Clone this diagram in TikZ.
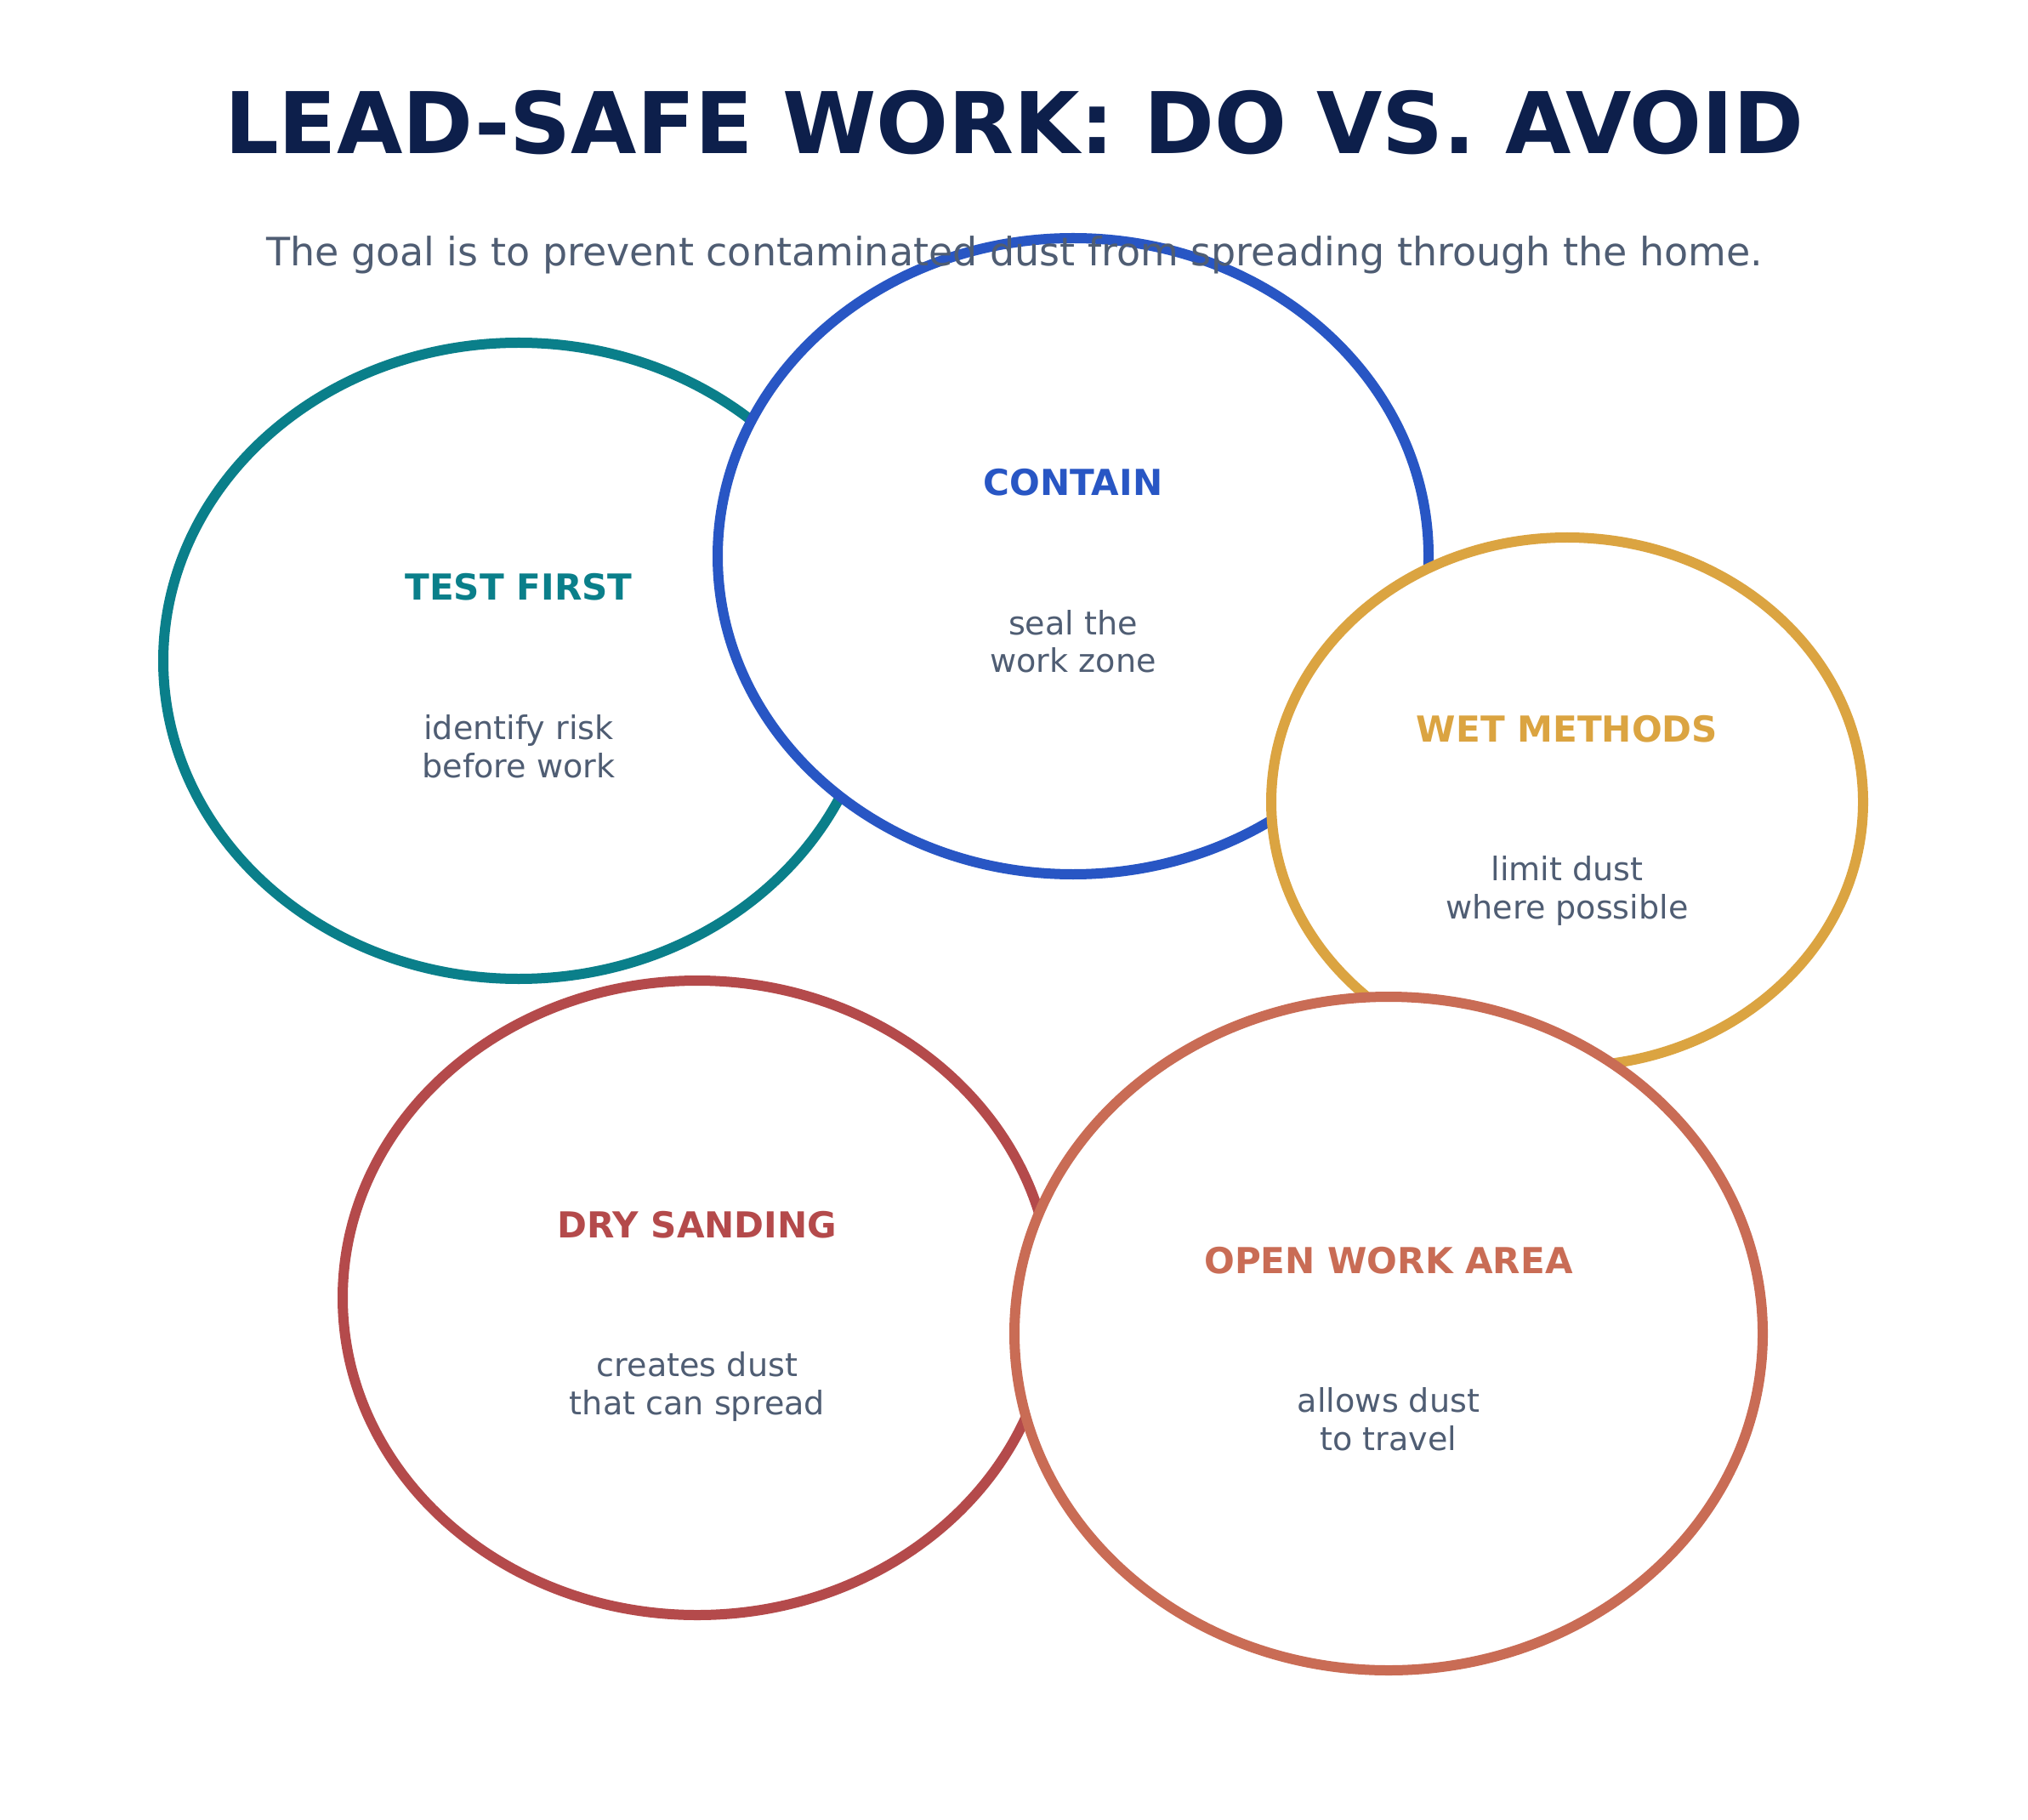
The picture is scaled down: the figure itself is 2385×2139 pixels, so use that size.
\documentclass[tikz,border=0pt]{standalone}
\usepackage{fontspec}
\setmainfont{DejaVu Sans}
\usetikzlibrary{shapes.geometric,positioning}

\definecolor{navytext}{HTML}{0D1F4B}
\definecolor{slatetext}{HTML}{4F5D73}
\definecolor{tealline}{HTML}{0A7F8A}
\definecolor{blueline}{HTML}{2856C4}
\definecolor{goldline}{HTML}{DBA441}
\definecolor{redline}{HTML}{B44A4B}
\definecolor{coralline}{HTML}{C96C55}

\begin{document}
\begin{tikzpicture} [x=0.24pt,y=-0.24pt,line width=2.88pt,
  spot/.style 2 args={ellipse,draw,fill=white,inner sep=0pt,
    minimum width=#1*0.24pt,minimum height=#2*0.24pt},
  head/.style={anchor=base,inner sep=0pt,font=\bfseries\fontsize{10.1}{12}\selectfont},
  note/.style={anchor=base,align=center,inner sep=0pt,text=slatetext,
    font=\fontsize{9.15}{10.7}\selectfont}]

  \useasboundingbox (0,0) rectangle (2385,2139);

  \node[anchor=base,text=navytext,font=\bfseries\fontsize{24}{29}\selectfont] (title)
    at (1193,181) {LEAD-SAFE WORK: DO VS. AVOID};

  % do
  \node[spot={836}{748},draw=tealline] (test) at (610,777) {};
  \node[spot={836}{748},draw=blueline] (contain) at (1262,654) {};
  \node[spot={696}{622},draw=goldline] (wet) at (1843,943) {};
  % avoid
  \node[spot={834}{746},draw=redline] (dry) at (820,1526) {};
  \node[spot={880}{792},draw=coralline] (open) at (1633,1568) {};

  \node[head,text=tealline] (testhead) at ([yshift=17.04pt]test.center) {TEST FIRST};
  \node[note] (testnote) at ([yshift=-32.88pt]test.center) {identify risk\\before work};
  \node[head,text=blueline] (containhead) at ([yshift=17.04pt]contain.center) {CONTAIN};
  \node[note] (containnote) at ([yshift=-32.88pt]contain.center) {seal the\\work zone};
  \node[head,text=goldline] (wethead) at ([yshift=17.04pt]wet.center) {WET METHODS};
  \node[note] (wetnote) at ([yshift=-32.88pt]wet.center) {limit dust\\where possible};
  \node[head,text=redline] (dryhead) at ([yshift=17.04pt]dry.center) {DRY SANDING};
  \node[note] (drynote) at ([yshift=-32.88pt]dry.center) {creates dust\\that can spread};
  \node[head,text=coralline] (openhead) at ([yshift=17.04pt]open.center) {OPEN WORK AREA};
  \node[note] (opennote) at ([yshift=-32.88pt]open.center) {allows dust\\to travel};

  \node[anchor=base,text=slatetext,font=\fontsize{11.03}{13}\selectfont] (subtitle)
    at (1193,313) {The goal is to prevent contaminated dust from spreading through the home.};

\end{tikzpicture}
\end{document}
